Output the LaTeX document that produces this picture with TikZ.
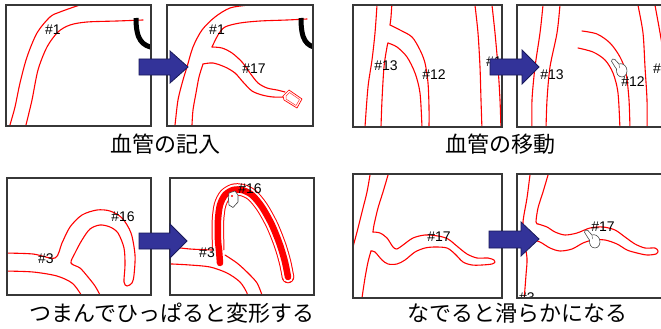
\documentclass[tikz,border=0pt]{standalone}
\usepackage{fontspec}
\newfontfamily\jpfont{Noto Sans CJK JP}
\newfontfamily\lblfont{Liberation Sans}
\definecolor{arrowblue}{RGB}{51,51,153}
\definecolor{arrowedge}{RGB}{25,25,90}
\definecolor{framegray}{RGB}{55,55,55}
\begin{document}
\begin{tikzpicture}[x=1pt,y=-1pt,
  vessel/.style={red, line width=1.1pt, line join=round, line cap=round},
  frame/.style={draw=framegray, line width=1.2pt},
  tagnum/.style={font=\lblfont\fontsize{14}{15}\selectfont, inner sep=0pt, text=black},
  caption/.style={font=\jpfont\fontsize{22}{24}\selectfont, inner sep=0pt},
  bigarrow/.style={fill=arrowblue, draw=arrowedge, line width=0.8pt, line join=miter},
  wire/.style={black, line width=5pt},
  handicon/.pic={
    \draw[fill=white, draw=black!70, line width=0.6pt, line join=round]
      (-1.5,1.2) .. controls (-2.2,-0.8) and (0.5,-1.8) .. (1.8,-0.6)
      -- (6,4) .. controls (8.5,3) and (12,4.5) .. (13.5,8)
      .. controls (15,12) and (13,17) .. (9,17)
      .. controls (5,17) and (3,13) .. (3.5,9)
      .. controls (2,7) .. (-1.5,1.2) -- cycle;
    \draw[black!70, line width=0.4pt] (6,4) .. controls (7,6) .. (6.5,8);
  }
]
\useasboundingbox[fill=white] (0,0) rectangle (661,329);

% ---------- panel 1: vessel #1 before drawing ----------
\begin{scope}
  \clip (6,5) rectangle (151,126);
  \draw[vessel] plot[smooth] coordinates {(9,130) (10,125) (15,107) (20,83) (27,57) (37,33) (50,17) (60,12) (80,5) (90,3)};
  \draw[vessel] plot[smooth] coordinates {(25,130) (26,125) (32,100) (38,70) (47,47) (58,32) (70,25) (87,22) (117,21) (143,20)};
  \draw[wire] (136,18) .. controls (136,40) and (142,46) .. (155,48);
\end{scope}
\draw[frame] (6,5) rectangle (151,126);
\node[tagnum] (p1a) at (53,30) {\#1};

% ---------- panel 2: vessel #17 added ----------
\begin{scope}
  \clip (167,5) rectangle (313,126);
  \draw[vessel] plot[smooth] coordinates {(174,130) (175,125) (178,100) (183,80) (187,67) (193,47) (202,30) (215,17) (230,8) (248,5) (258,3)};
  \draw[vessel] plot[smooth] coordinates {(307,19) (287,20) (260,21) (240,23) (225,27) (218,35) (212,47)};
  \draw[vessel] plot[smooth] coordinates {(212,47) (222,48) (232,53) (242,62) (250,73) (258,83) (267,88) (277,90) (285,92)};
  \draw[vessel] plot[smooth] coordinates {(284,97) (273,97) (262,95) (252,91) (243,82) (235,73) (225,67) (213,63) (203,64)};
  \draw[vessel] plot[smooth] coordinates {(203,64) (199,77) (196,93) (193,110) (192,125) (192,130)};
  \draw[wire] (301,18) .. controls (301,40) and (306,46) .. (318,48);
  % eraser tag at the end of the new vessel
  \draw[red, line width=0.7pt, fill=white, line join=round]
    (283,96) -- (289,90) -- (302,99) -- (297,108) -- (284,100) -- cycle;
  \draw[red!80, line width=0.5pt, line join=round]
    (286,96) -- (289.5,92.5) -- (299.5,99.5) -- (296,105.5) -- (286,99) -- cycle;
\end{scope}
\draw[frame] (167,5) rectangle (313,126);
\node[tagnum] (p2a) at (217,30) {\#1};
\node[tagnum] (p2b) at (254,69) {\#17};

% ---------- panel 3: vessels #12 / #13 before moving ----------
\begin{scope}
  \clip (353,5) rectangle (502,127);
  \draw[vessel] plot[smooth] coordinates {(377,3) (377,5) (375,33) (372,60) (368,87) (365,127) (365,130)};
  \draw[vessel] plot[smooth] coordinates {(392,2) (391,17) (390,25)};
  \draw[vessel] plot[smooth] coordinates {(390,25) (400,30) (412,37) (420,50) (425,63) (428,83) (429,107) (429,130)};
  \draw[vessel] plot[smooth] coordinates {(381,130) (381,127) (382,100) (384,67) (387,47) (388,43)};
  \draw[vessel] plot[smooth] coordinates {(388,43) (397,47) (407,57) (415,73) (420,93) (422,127) (422,130)};
  \draw[vessel] plot[smooth] coordinates {(475,2) (475,5) (478,33) (480,67) (481,100) (482,130)};
  \draw[vessel] plot[smooth] coordinates {(492,2) (492,5) (495,33) (498,67) (500,100) (501,130)};
  \node[tagnum, anchor=west] (p3c) at (486,62) {\#1};
\end{scope}
\draw[frame] (353,5) rectangle (502,127);
\node[tagnum] (p3a) at (386,66) {\#13};
\node[tagnum] (p3b) at (434,75) {\#12};

% ---------- panel 4: vessel #12 moved ----------
\begin{scope}
  \clip (517,5) rectangle (668,127);
  \draw[vessel] plot[smooth] coordinates {(543,2) (543,5) (540,33) (535,67) (532,100) (532,130)};
  \draw[vessel] plot[smooth] coordinates {(560,2) (560,5) (557,33) (550,67) (547,100) (546,130)};
  \draw[vessel] plot[smooth] coordinates {(582,31) (597,34) (610,43) (620,57) (626,73) (629,100) (630,130)};
  \draw[vessel] plot[smooth] coordinates {(578,48) (593,52) (605,60) (613,73) (618,93) (620,130)};
  \draw[vessel] plot[smooth] coordinates {(638,2) (638,5) (643,33) (645,67) (647,100) (647,130)};
  \draw[vessel] plot[smooth] coordinates {(655,2) (655,5) (659,27) (663,50)};
  \node[tagnum, anchor=west] (p4c) at (653,69) {\#1};
  \pic at (613,60) {handicon};
\end{scope}
\draw[frame] (517,5) rectangle (668,127);
\node[tagnum] (p4a) at (552,75) {\#13};
\node[tagnum] (p4b) at (633,82) {\#12};

% ---------- panel 5: vessel #16 before pulling ----------
\begin{scope}
  \clip (7,178) rectangle (151,295);
  \draw[vessel] plot[smooth] coordinates {(3,253) (5,253) (33,254) (55,258) (62,243) (70,227) (82,215) (97,210) (110,211) (122,218) (131,233) (135,255) (134,275) (132,283) (127,286) (124,282) (125,265) (124,248) (118,233) (110,227) (100,225) (90,229) (82,240) (75,253) (71,263) (80,268) (88,277) (95,286) (100,295) (101,299)};
  \draw[vessel] plot[smooth] coordinates {(3,271) (5,271) (33,272) (57,276) (72,283) (80,293) (83,299)};
\end{scope}
\draw[frame] (7,178) rectangle (151,295);
\node[tagnum] (p5a) at (123,217) {\#16};
\node[tagnum] (p5b) at (46,259) {\#3};

% ---------- panel 6: vessel #16 pulled into a new shape ----------
\begin{scope}
  \clip (170,178) rectangle (314,295);
  % outline of the dragged vessel
  \draw[red, line width=12.5pt, line cap=butt] plot[smooth] coordinates {(218,250) (218,240) (218,220) (220,205) (225,195) (233,190) (242,190) (252,195) (262,207) (272,225) (280,245) (285,262) (288,277)};
  \fill[red] (288,277) circle (6.25);
  \draw[white, line width=10.5pt, line cap=butt] plot[smooth] coordinates {(218,250) (218,240) (218,220) (220,205) (225,195) (233,190) (242,190) (252,195) (262,207) (272,225) (280,245) (285,262) (288,277)};
  \fill[white] (288,277) circle (5.25);
  % unchanged vessels
  \draw[vessel] plot[smooth] coordinates {(166,247) (172,247) (190,249) (212,250)};
  \draw[vessel] plot[smooth] coordinates {(225,255) (237,263) (248,273) (257,283) (262,295) (263,299)};
  \draw[vessel] plot[smooth] coordinates {(166,264) (172,264) (190,265) (210,267) (227,273) (240,282) (247,293) (248,299)};
  % highlighted stroke of the drag
  \draw[red, line width=6.5pt, line cap=round] plot[smooth] coordinates {(220,263) (219,250) (218,240) (218,220) (220,205) (225,195) (233,190) (242,190) (252,195) (262,207) (272,225) (280,245) (285,262) (288,277)};
  % grabbing hand
  \draw[fill=white, draw=black!75, line width=0.6pt, line join=round]
    (229,193) -- (235,191) -- (238,195) -- (238,202) -- (233,207.5) -- (229,205) -- (228.5,199) -- cycle;
  \fill[red] (232,196) circle (1.2);
\end{scope}
\draw[frame] (170,178) rectangle (314,295);
\node[tagnum] (p6a) at (250,189) {\#16};
\node[tagnum] (p6b) at (207,253) {\#3};

% ---------- panel 7: vessel #17 before smoothing ----------
\begin{scope}
  \clip (353,174) rectangle (502,298);
  \draw[vessel] plot[smooth] coordinates {(371,171) (370,175) (367,192) (362,212) (357,232) (353,247) (350,260)};
  \draw[vessel] plot[smooth] coordinates {(389,171) (388,175) (383,192) (378,208) (374,225) (373,232)};
  \draw[vessel] plot[smooth] coordinates {(373,232) (380,233) (387,238) (393,247) (397,249) (403,245) (413,238) (425,235) (438,236) (448,239) (458,247) (467,254) (477,258) (488,258) (494,260) (495,262) (492,264) (482,265) (472,265) (463,262) (455,254) (447,248) (435,247) (425,248) (415,252) (405,260) (397,264) (388,264) (382,260) (375,252) (371,251)};
  \draw[vessel] plot[smooth] coordinates {(371,251) (368,262) (365,278) (362,298) (362,301)};
\end{scope}
\draw[frame] (353,174) rectangle (502,298);
\node[tagnum] (p7a) at (439,237) {\#17};

% ---------- panel 8: vessel #17 smoothed ----------
\begin{scope}
  \clip (517,174) rectangle (668,298);
  \draw[vessel] plot[smooth] coordinates {(531,171) (530,175) (527,198) (523,222) (524,240) (527,258) (526,275) (524,301)};
  \draw[vessel] plot[smooth] coordinates {(549,171) (548,175) (543,192) (538,208) (536,222) (538,224)};
  \draw[vessel] plot[smooth] coordinates {(538,224) (547,227) (555,232) (565,235) (577,233) (590,228) (603,227) (615,230) (625,237) (635,244) (645,248) (655,248) (658,251) (656,254) (647,255) (637,253) (627,250) (617,244) (605,240) (593,240) (583,243) (572,249) (560,251) (550,248) (540,242) (532,240)};
  \node[tagnum, anchor=north west] (p8b) at (519,293) {\#3};
  \pic at (586,231) {handicon};
\end{scope}
\draw[frame] (517,174) rectangle (668,298);
\node[tagnum] (p8a) at (603,227) {\#17};

% ---------- arrows between the panels ----------
\draw[bigarrow] (139,59) -- (170,59) -- (170,51) -- (188,67) -- (170,83) -- (170,75) -- (139,75) -- cycle;
\draw[bigarrow] (490,59) -- (522,59) -- (522,50) -- (539,67) -- (522,84) -- (522,75) -- (490,75) -- cycle;
\draw[bigarrow] (139,233) -- (170,233) -- (170,224) -- (187,241) -- (170,258) -- (170,249) -- (139,249) -- cycle;
\draw[bigarrow] (489,231) -- (521,231) -- (521,222) -- (539,239) -- (521,256) -- (521,248) -- (489,248) -- cycle;

% ---------- captions ----------
\node[caption] (c1) at (165,144) {血管の記入};
\node[caption] (c2) at (500,144) {血管の移動};
\node[caption] (c3) at (172,313) {つまんでひっぱると変形する};
\node[caption] (c4) at (517,313) {なでると滑らかになる};
\end{tikzpicture}
\end{document}
